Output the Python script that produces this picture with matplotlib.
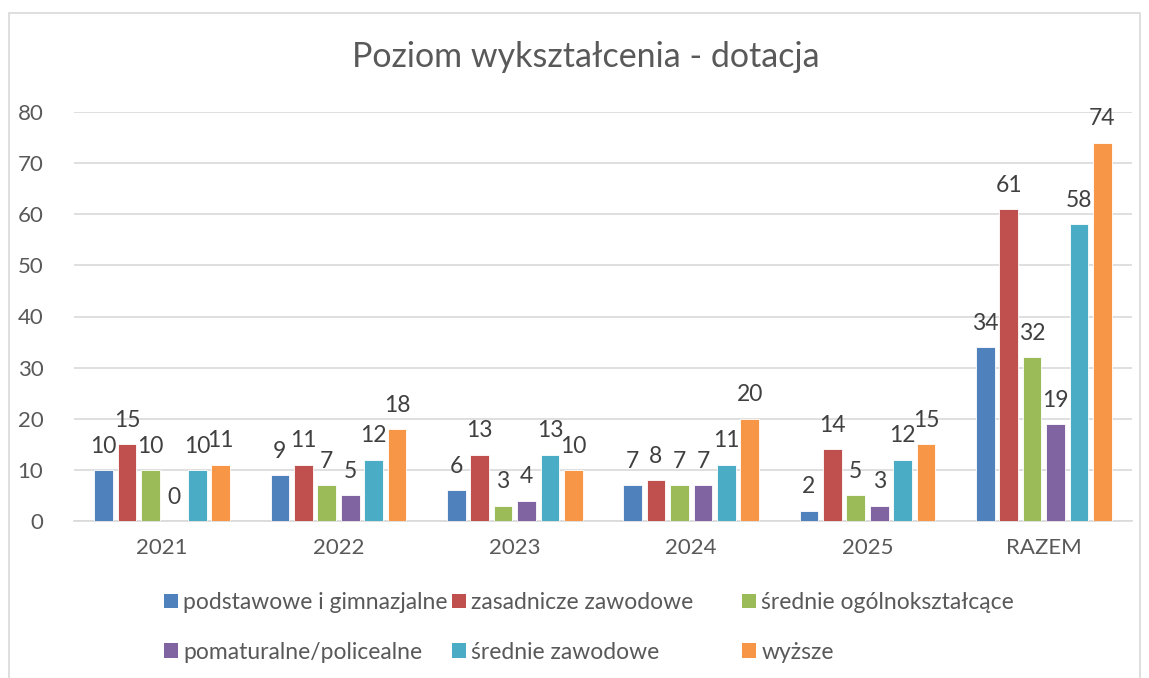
import matplotlib
matplotlib.use("Agg")
import matplotlib.pyplot as plt
import numpy as np
from matplotlib.patches import Rectangle, Patch

plt.rcParams['font.family'] = ['Lato', 'DejaVu Sans']

categories = ["2021", "2022", "2023", "2024", "2025", "RAZEM"]
series_names = ["podstawowe i gimnazjalne", "zasadnicze zawodowe", "średnie ogólnokształcące",
                "pomaturalne/policealne", "średnie zawodowe", "wyższe"]
podstawowe = [10, 9, 6, 7, 2, 34]
zasadnicze = [15, 11, 13, 8, 14, 61]
srednie_ogolne = [10, 7, 3, 7, 5, 32]
pomaturalne = [0, 5, 4, 7, 3, 19]
srednie_zawodowe = [10, 12, 13, 11, 12, 58]
wyzsze = [11, 18, 10, 20, 15, 74]
series = [podstawowe, zasadnicze, srednie_ogolne, pomaturalne, srednie_zawodowe, wyzsze]
colors = ["#4F81BD", "#C0504D", "#9BBB59", "#8064A2", "#4BACC6", "#F79646"]
title = "Poziom wykształcenia - dotacja"

W, H = 1149, 678
fig = plt.figure(figsize=(W / 100, H / 100), dpi=100)
fig.patches.append(Rectangle((9 / W, -0.05), (1140 - 9) / W, (H - 13) / H + 0.05,
                             transform=fig.transFigure, fill=False, edgecolor="#D9D9D9", lw=1.2))

ax_w = 1132 - 74
ax = fig.add_axes([74 / W, (H - 521) / H, ax_w / W, (521 - 112) / H])
x = np.arange(len(categories))
step = 0.133
width = 0.106
tc = "#404040"
for i, (vals, c) in enumerate(zip(series, colors)):
    pos = x + (i - 2.5) * step
    ax.bar(pos, vals, width, color=c, edgecolor="white", linewidth=0.6, zorder=3)
    for p, v in zip(pos, vals):
        ax.text(p, v + 2.6, str(v), ha="center", va="bottom", fontsize=16.5, color=tc)

ax.set_xlim(-0.5, len(categories) - 0.5)
ax.set_ylim(0, 80)
ax.set_yticks(range(0, 81, 10))
ax.set_xticks(x)
ax.set_xticklabels(categories)
ax.grid(axis="y", color="#D9D9D9", lw=1.2, zorder=0)
for s in ["top", "right", "left"]:
    ax.spines[s].set_visible(False)
ax.spines["bottom"].set_color("#D9D9D9")
ax.spines["bottom"].set_linewidth(1.2)
ax.tick_params(axis="both", length=0, labelsize=16, labelcolor="#595959")
ax.tick_params(axis="y", pad=22)
ax.tick_params(axis="x", pad=12)

fig.text(586 / W, 1 - 57 / H, title, ha="center", va="center", fontsize=24.5, color="#595959")

col_x = [164, 452, 742]
for col in range(3):
    handles = [Patch(facecolor=colors[col + 3 * r]) for r in range(2)]
    labels = [series_names[col + 3 * r] for r in range(2)]
    leg = fig.legend(handles, labels, loc="upper left",
                     bbox_to_anchor=(col_x[col] / W, 1 - 592 / H), frameon=False,
                     fontsize=16.5, handlelength=0.6, handleheight=0.6, handletextpad=0.25,
                     labelspacing=1.25, borderaxespad=0, borderpad=0)
    for t in leg.get_texts():
        t.set_color("#595959")

fig.savefig("out.png", dpi=100)
